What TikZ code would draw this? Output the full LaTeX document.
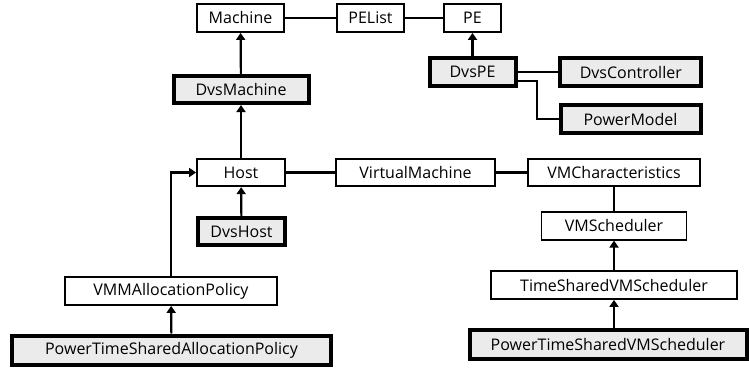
\documentclass[tikz,border=0pt]{standalone}
\usepackage{fontspec}
\setmainfont{Open Sans}
\usetikzlibrary{arrows.meta,positioning,calc}
\definecolor{boxgray}{RGB}{235,235,235}

\begin{document}
\begin{tikzpicture}[x=1pt,y=-1pt,
    cls/.style={draw,line width=1.8pt,fill=white,inner sep=0pt,font=\fontsize{16}{17}\selectfont},
    dvs/.style={cls,line width=4pt,fill=boxgray},
    link/.style={line width=2.2pt},
    inherit/.style={link,-{Triangle[width=9pt,length=7pt]}}]
  \useasboundingbox (0,0) rectangle (749,369);
  % top row
  \node[cls,minimum width=87pt,minimum height=28pt] (machine) at (240.5,18) {Machine};
  \node[cls,minimum width=67pt,minimum height=28pt] (pelist) at (370.5,18) {PEList};
  \node[cls,minimum width=57pt,minimum height=28pt] (pe) at (472.5,18) {PE};
  \node[dvs,minimum width=135pt,minimum height=27pt] (dvsmachine) at (241,89.5) {DvsMachine};
  \node[dvs,minimum width=86pt,minimum height=27.5pt] (dvspe) at (472.5,72) {DvsPE};
  \node[dvs,minimum width=141pt,minimum height=27.5pt] (dvscontroller) at (630.8,72) {DvsController};
  \node[dvs,minimum width=140pt,minimum height=27.5pt] (powermodel) at (630.5,119) {PowerModel};
  % host row
  \node[cls,minimum width=88pt,minimum height=27.5pt] (host) at (241,172.5) {Host};
  \node[cls,minimum width=159pt,minimum height=27.5pt] (vm) at (415.5,172.5) {VirtualMachine};
  \node[cls,minimum width=172pt,minimum height=27.5pt] (vmchar) at (614,172.5) {VMCharacteristics};
  \node[dvs,minimum width=87pt,minimum height=27pt] (dvshost) at (241.5,231.5) {DvsHost};
  % schedulers
  \node[cls,minimum width=145pt,minimum height=28pt] (vmsched) at (614,225.7) {VMScheduler};
  \node[cls,minimum width=246pt,minimum height=28pt] (tssched) at (614,285) {TimeSharedVMScheduler};
  \node[dvs,minimum width=277pt,minimum height=29pt] (ptssched) at (608,344.5) {PowerTimeSharedVMScheduler};
  % allocation policies
  \node[cls,minimum width=212pt,minimum height=28pt] (vmmap) at (171,291) {VMMAllocationPolicy};
  \node[dvs,minimum width=319pt,minimum height=29pt] (ptsap) at (171.5,350) {PowerTimeSharedAllocationPolicy};

  \coordinate (bend) at (537,119);

  \draw[link] (machine) -- (pelist);
  \draw[link] (pelist) -- (pe);
  \draw[inherit] (dvsmachine) -- (machine);
  \draw[inherit] (host) -- (dvsmachine);
  \draw[inherit] (dvshost) -- (host);
  \draw[inherit] (dvspe) -- (pe);
  \draw[link] (dvspe) -- (dvscontroller);
  \draw[link] ([yshift=-9pt]dvspe.east) -| (bend) -- (powermodel);
  \draw[link] (host) -- (vm);
  \draw[link] (vm) -- (vmchar);
  \draw[link] (vmchar) -- (vmsched);
  \draw[inherit] (tssched) -- (vmsched);
  \draw[inherit] (ptssched.north -| tssched) -- (tssched);
  \draw[inherit] (ptsap) -- (vmmap);
  \draw[inherit] (vmmap.north) |- (host.west);
\end{tikzpicture}
\end{document}
